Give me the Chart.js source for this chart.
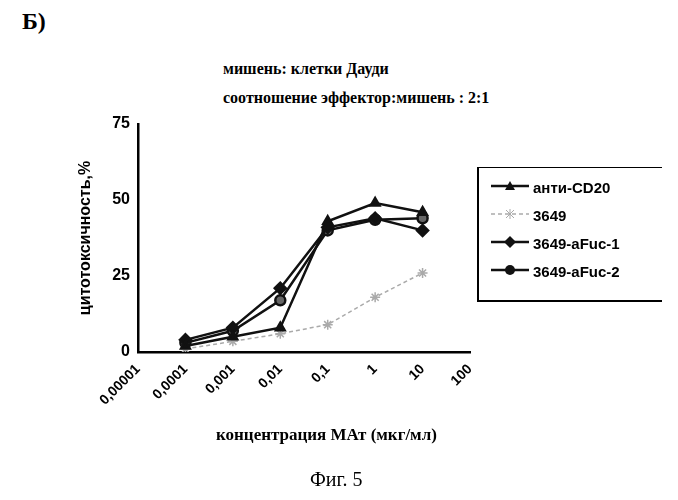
<!DOCTYPE html>
<html><head><meta charset="utf-8">
<script src="https://cdn.jsdelivr.net/npm/chart.js@4/dist/chart.umd.min.js"></script>
<style>
body{margin:0;width:678px;height:500px;background:#fff;position:relative;font-family:"Liberation Sans",Arial,sans-serif;}
.t{position:absolute;white-space:nowrap;}
#wrap{position:absolute;left:76px;top:112px;width:424px;height:330px;}
#legend{position:absolute;left:477px;top:167px;width:185px;height:135px;border:2px solid #000;border-right:none;border-top:1.5px solid #000;box-sizing:border-box;font-weight:bold;font-size:15px;}
#legend div{height:28px;line-height:28px;padding-left:12px;}
#legend span.m{display:inline-block;width:38px;margin-right:4px;}
</style></head><body>
<div class="t" style="left:22px;top:8px;font:bold 24px 'Liberation Serif',serif;">Б)</div>
<div class="t" style="left:223px;top:60px;font:bold 16px 'Liberation Serif',serif;">мишень: клетки Дауди</div>
<div class="t" style="left:223px;top:89px;font:bold 16px 'Liberation Serif',serif;">соотношение эффектор:мишень : 2:1</div>
<div id="wrap"><canvas id="c"></canvas></div>
<div id="legend">
<div style="margin-top:6px"><span class="m" id="l0"></span>анти-CD20</div>
<div><span class="m" id="l1"></span>3649</div>
<div><span class="m" id="l2"></span>3649-aFuc-1</div>
<div><span class="m" id="l3"></span>3649-aFuc-2</div>
</div>
<div class="t" style="left:216px;top:425px;font:bold 17px 'Liberation Serif',serif;">концентрация МАт (мкг/мл)</div>
<div class="t" style="left:310px;top:468px;font:20px 'Liberation Serif',serif;">Фиг. 5</div>
<script>
const xLabels = ['0,00001','0,0001','0,001','0,01','0,1','1','10','100'];
const antiCD20 = [null, 2, 5, 8, 43, 49, 46, null];
const s3649 = [null, 1, 3.5, 6, 9, 18, 26, null];
const aFuc1 = [null, 4, 8, 21, 41, 44, 40, null];
const aFuc2 = [null, 3, 7, 17, 40, 43.5, 44, null];
const seriesNames = ['анти-CD20','3649','3649-aFuc-1','3649-aFuc-2'];

const styles = [
  {borderColor:'#111', pointStyle:'triangle', pointRadius:5, borderWidth:2.5},
  {borderColor:'#aaa', pointStyle:'star', pointRadius:5, borderWidth:1.5, borderDash:[4,3]},
  {borderColor:'#111', pointStyle:'rectRot', pointRadius:5.5, borderWidth:2.5},
  {borderColor:'#111', pointStyle:'circle', pointRadius:5, borderWidth:2.5}
];
const datasets = [antiCD20, s3649, aFuc1, aFuc2].map((d, i) => Object.assign({
  label: seriesNames[i], data: d, backgroundColor: i === 3 ? '#666' : styles[i].borderColor,
  pointBorderColor: styles[i].borderColor, tension: 0, fill: false
}, styles[i]));

// legend swatches
styles.forEach((s, i) => {
  const c = document.createElement('canvas');
  c.width = 38; c.height = 14;
  const g = c.getContext('2d');
  g.strokeStyle = s.borderColor; g.lineWidth = s.borderWidth;
  if (s.borderDash) g.setLineDash(s.borderDash);
  g.beginPath(); g.moveTo(0, 7); g.lineTo(38, 7); g.stroke();
  g.setLineDash([]); g.fillStyle = s.borderColor;
  g.beginPath();
  if (s.pointStyle === 'triangle') { g.moveTo(19, 2); g.lineTo(24, 11); g.lineTo(14, 11); }
  else if (s.pointStyle === 'rectRot') { g.moveTo(19, 1); g.lineTo(25, 7); g.lineTo(19, 13); g.lineTo(13, 7); }
  else if (s.pointStyle === 'circle') { g.arc(19, 7, 5, 0, Math.PI * 2); }
  else { g.lineWidth = 1; g.moveTo(15, 3); g.lineTo(23, 11); g.moveTo(23, 3); g.lineTo(15, 11); g.moveTo(19, 2); g.lineTo(19, 12); g.stroke(); }
  g.fill();
  document.getElementById('l' + i).appendChild(c);
});

new Chart(document.getElementById('c'), {
  type: 'line',
  data: { labels: xLabels, datasets: datasets },
  options: {
    responsive: true, maintainAspectRatio: false, animation: false,
    layout: { padding: { top: 12, right: 30, left: 0, bottom: 0 } },
    plugins: { legend: { display: false }, tooltip: { enabled: false } },
    scales: {
      x: {
        offset: false,
        grid: { display: false, drawTicks: true, tickLength: 6, color: '#000' },
        border: { color: '#000', width: 2.5 },
        ticks: { color: '#000', font: { family: 'Liberation Sans', weight: 'bold', size: 14 }, minRotation: 45, maxRotation: 45, autoSkip: false },
        afterFit: s => { s.height = 90; }
      },
      y: {
        min: 0, max: 75,
        grid: { display: false, drawTicks: true, tickLength: 6, color: '#000' },
        border: { color: '#000', width: 2.5 },
        ticks: { stepSize: 25, color: '#000', padding: 2, font: { family: 'Liberation Sans', weight: 'bold', size: 16 } },
        title: { display: true, text: 'цитотоксичность,%', color: '#000', padding: 0, font: { family: 'Liberation Sans', weight: 'bold', size: 16 } },
        afterFit: s => { s.width = 62; }
      }
    }
  }
});
</script>
</body></html>
